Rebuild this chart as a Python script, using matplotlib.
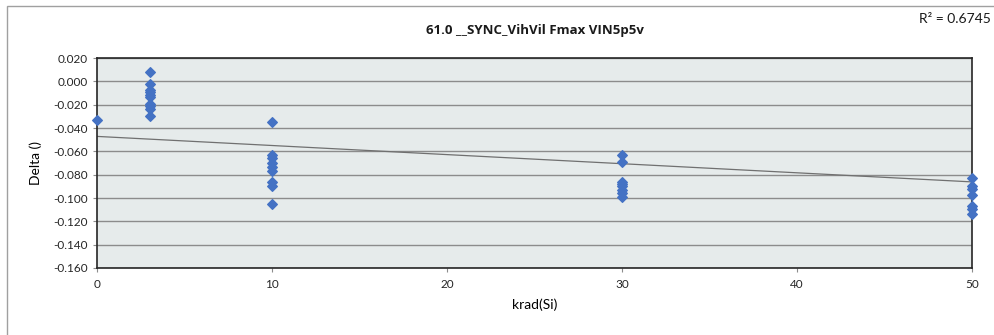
import numpy as np
from matplotlib import pyplot as plt
from matplotlib.patches import Rectangle

# data
krad_0 = [0]
delta_0 = [-0.033]
krad_3 = [3] * 10
delta_3 = [0.008, -0.002, -0.007, -0.009, -0.012, -0.013, -0.019, -0.021, -0.024, -0.030]
krad_10 = [10] * 9
delta_10 = [-0.035, -0.063, -0.066, -0.070, -0.073, -0.077, -0.086, -0.090, -0.105]
krad_30 = [30] * 8
delta_30 = [-0.063, -0.069, -0.086, -0.088, -0.090, -0.093, -0.096, -0.099]
krad_50 = [50] * 7
delta_50 = [-0.083, -0.090, -0.092, -0.097, -0.107, -0.109, -0.114]

# linear trend line as shown on the chart (slope, intercept)
trend = [-0.00078, -0.0472]

title = '61.0 __SYNC_VihVil Fmax VIN5p5v'
r2_label = 'R² = 0.6745'
y_ticks = [0.02, 0.0, -0.02, -0.04, -0.06, -0.08, -0.1, -0.12, -0.14, -0.16]
x_ticks = [0, 10, 20, 30, 40, 50]

x = np.array(krad_0 + krad_3 + krad_10 + krad_30 + krad_50, dtype=float)
y = np.array(delta_0 + delta_3 + delta_10 + delta_30 + delta_50)

plt.rcParams['font.family'] = ['Lato', 'DejaVu Sans']
plt.rcParams['font.size'] = 8.5

fig = plt.figure(figsize=(9.94, 3.35), dpi=100)
ax = fig.add_axes([97 / 994, 1 - 268 / 335, (972 - 97) / 994, (268 - 58) / 335])

# outer chart frame
fig.patches.append(Rectangle((7 / 994, -0.1), 1.2, 1 - 6 / 335 + 0.1, transform=fig.transFigure,
                             fill=False, edgecolor='#a0a0a0', linewidth=1))

ax.set_facecolor('#e6ebeb')
ax.set_xlim(0, 50)
ax.set_ylim(-0.16, 0.02)
ax.set_yticks(y_ticks)
ax.set_yticklabels([f'{v:.3f}' for v in y_ticks])
ax.set_xticks(x_ticks)
ax.grid(axis='y', color='#8c8c8c', linewidth=1)
ax.set_axisbelow(True)
for s in ax.spines.values():
    s.set_color('#262626')
    s.set_linewidth(1.2)
ax.tick_params(axis='both', length=3, color='#8c8c8c', labelsize=8.5, labelcolor='#262626')
ax.tick_params(axis='x', pad=5)

# trend line
xs = np.array([0, 50])
ax.plot(xs, trend[0] * xs + trend[1], color='#707070', linewidth=0.9, zorder=2)

ax.scatter(x, y, marker='D', s=24, color='#4472c4', zorder=3, clip_on=False)

ax.set_title(title, fontsize=9.5, fontweight='bold', family=['Open Sans', 'DejaVu Sans'],
             pad=17, color='#1a1a1a')
ax.set_xlabel('krad(Si)', fontsize=10, labelpad=6)
ax.set_ylabel('Delta ()', fontsize=10, labelpad=8)
fig.text(991 / 994, 1 - 19 / 335, r2_label, ha='right', va='center', fontsize=10, color='#1a1a1a')

fig.savefig('out.png', dpi=100)
plt.close()
